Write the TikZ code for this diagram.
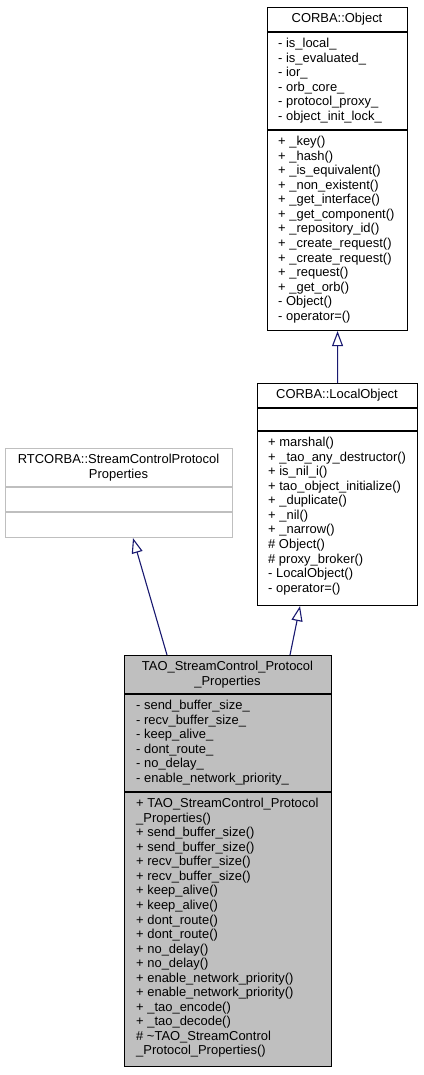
\documentclass[tikz,border=0pt]{standalone}
\usepackage{fontspec}
\setmainfont{Liberation Sans}
\usetikzlibrary{arrows.meta}
\definecolor{edgeblue}{HTML}{191970}
\definecolor{boxgray}{HTML}{BFBFBF}
\tikzset{
  txt/.style={inner sep=0pt, font=\fontsize{13}{14.6}\selectfont, align=left, anchor=north west},
  ttl/.style={inner sep=0pt, font=\fontsize{13}{14.6}\selectfont, align=center, anchor=north},
  cls/.style={draw=black, line width=1.1bp, anchor=north west, inner sep=0pt, minimum width=#1},
  sepline/.style={line width=1.1bp},
  inh/.style={draw=edgeblue, line width=1.1bp, -{Triangle[open, length=15bp, width=11bp, fill=white]}},
}
\begin{document}
\begin{tikzpicture}[x=1bp, y=-1bp]
\useasboundingbox (0,0) rectangle (423,1075);
% CORBA::Object
\node[cls=140bp, minimum height=323bp] (obj) at (267,7) {};
\draw[sepline] (obj.north west) ++(0,25) -- ++(140,0);
\draw[sepline] (obj.north west) ++(0,123) -- ++(140,0);
\node[ttl] (objT) at (337,12.3) {\strut CORBA::Object};
\node[txt] (objA) at (278,37.3) {\strut- is\_local\_\\\strut- is\_evaluated\_\\\strut- ior\_\\\strut- orb\_core\_\\\strut- protocol\_proxy\_\\\strut- object\_init\_lock\_};
\node[txt] (objM) at (278,135.3) {\strut+ \_key()\\\strut+ \_hash()\\\strut+ \_is\_equivalent()\\\strut+ \_non\_existent()\\\strut+ \_get\_interface()\\\strut+ \_get\_component()\\\strut+ \_repository\_id()\\\strut+ \_create\_request()\\\strut+ \_create\_request()\\\strut+ \_request()\\\strut+ \_get\_orb()\\\strut- Object()\\\strut- operator=()};
% CORBA::LocalObject
\node[cls=160bp, minimum height=222bp] (loc) at (257,383) {};
\draw[sepline] (loc.north west) ++(0,25) -- ++(160,0);
\draw[sepline] (loc.north west) ++(0,48) -- ++(160,0);
\node[ttl] (locT) at (337,388.3) {\strut CORBA::LocalObject};
\node[txt] (locM) at (268,436.3) {\strut+ marshal()\\\strut+ \_tao\_any\_destructor()\\\strut+ is\_nil\_i()\\\strut+ tao\_object\_initialize()\\\strut+ \_duplicate()\\\strut+ \_nil()\\\strut+ \_narrow()\\\strut\# Object()\\\strut\# proxy\_broker()\\\strut- LocalObject()\\\strut- operator=()};
% RTCORBA::StreamControlProtocolProperties
\node[cls=227bp, draw=boxgray, minimum height=89bp] (rt) at (5,448) {};
\draw[sepline, draw=boxgray] (rt.north west) ++(0,39) -- ++(227,0);
\draw[sepline, draw=boxgray] (rt.north west) ++(0,64) -- ++(227,0);
\node[ttl] (rtT) at (118.5,453.3) {\strut RTCORBA::StreamControlProtocol\\\strut Properties};
% TAO_StreamControl_Protocol_Properties
\node[cls=207bp, fill=boxgray, minimum height=411bp] (bot) at (124,655) {};
\draw[sepline] (bot.north west) ++(0,39) -- ++(207,0);
\draw[sepline] (bot.north west) ++(0,137) -- ++(207,0);
\node[ttl] (botT) at (227.5,660.3) {\strut TAO\_StreamControl\_Protocol\\\strut\_Properties};
\node[txt] (botA) at (136,699.3) {\strut- send\_buffer\_size\_\\\strut- recv\_buffer\_size\_\\\strut- keep\_alive\_\\\strut- dont\_route\_\\\strut- no\_delay\_\\\strut- enable\_network\_priority\_};
\node[txt] (botM) at (136,797.3) {\strut+ TAO\_StreamControl\_Protocol\\\strut\_Properties()\\\strut+ send\_buffer\_size()\\\strut+ send\_buffer\_size()\\\strut+ recv\_buffer\_size()\\\strut+ recv\_buffer\_size()\\\strut+ keep\_alive()\\\strut+ keep\_alive()\\\strut+ dont\_route()\\\strut+ dont\_route()\\\strut+ no\_delay()\\\strut+ no\_delay()\\\strut+ enable\_network\_priority()\\\strut+ enable\_network\_priority()\\\strut+ \_tao\_encode()\\\strut+ \_tao\_decode()\\\strut\# \textasciitilde TAO\_StreamControl\\\strut\_Protocol\_Properties()};
% inheritance arrows
\draw[inh] (loc.north) -- (obj.south);
\draw[inh] ([xshift=166bp]bot.north west) -- ([xshift=43bp]loc.south west);
\draw[inh] ([xshift=43bp]bot.north west) -- ([xshift=128bp]rt.south west);
\end{tikzpicture}
\end{document}
